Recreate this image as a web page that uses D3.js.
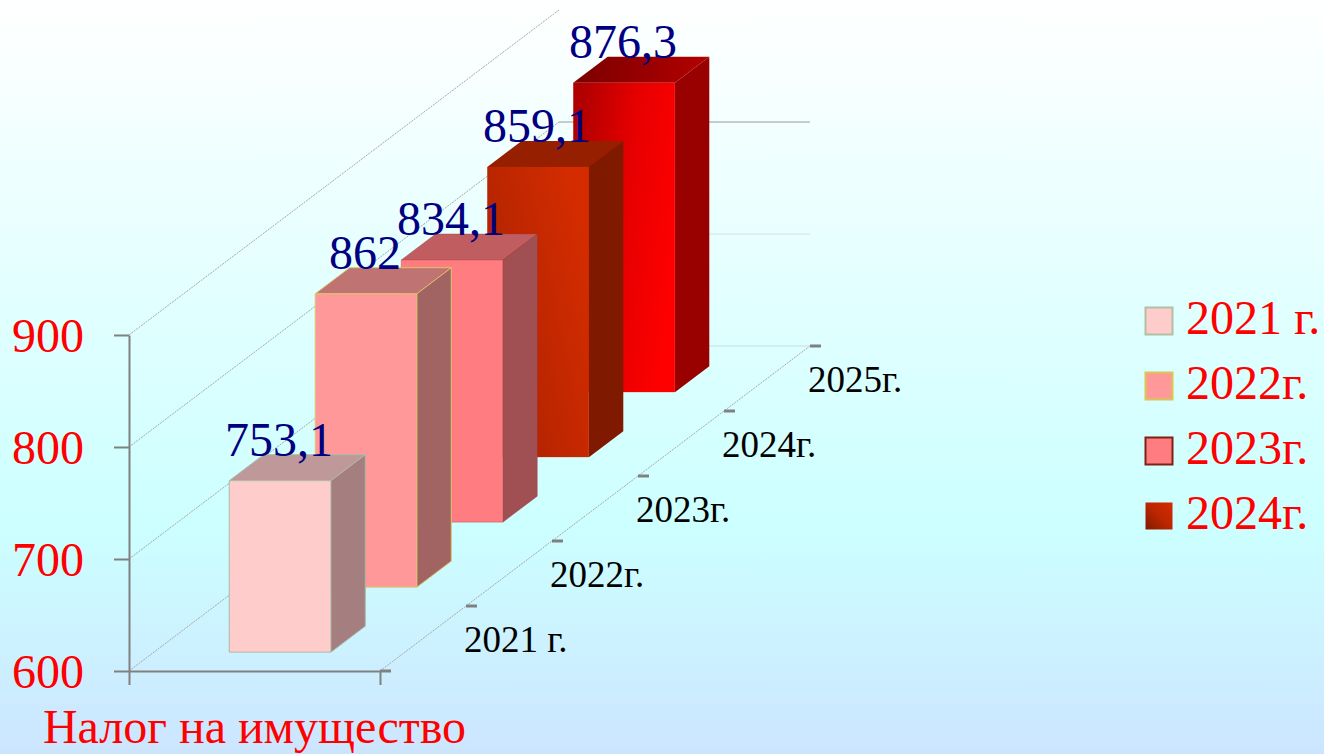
<!DOCTYPE html>
<html>
<head>
<meta charset="utf-8">
<script src="https://cdn.jsdelivr.net/npm/d3@7"></script>
<style>
  html, body { margin: 0; padding: 0; overflow: hidden; }
  text { font-family: "Liberation Serif", serif; }
  .wall { stroke: #a8a8a8; stroke-width: 1; stroke-dasharray: 2 1; fill: none; }
  .axis-main path, .axis-main line { stroke: #808080; stroke-width: 2; }
</style>
</head>
<body>
<svg id="chart" width="1324" height="754"></svg>
<script>
const categories = ["2021 г.", "2022г.", "2023г.", "2024г.", "2025г."];
const values = [753.1, 862, 834.1, 859.1, 876.3];
const valueLabels = ["753,1", "862", "834,1", "859,1", "876,3"];
const yTicks = [600, 700, 800, 900];
const seriesName = "Налог на имущество";
const legendLabels = categories.slice(0, 4);

const FACES = [
  { front: "#ffcccc", side: "#a57f7f", top: "#bf9999", edge: "#a9bca6", edgeOpacity: 1 },
  { front: "#ff9999", side: "#a26363", top: "#c07373", edge: "#d9c76a", edgeOpacity: 1 },
  { front: "#ff7c80", side: "#a05052", top: "#c05d60", edge: "#a03a30", edgeOpacity: 0.35 },
  { front: "url(#grad-2024)", side: "#7f1a00", top: "#961f00", edge: "none", edgeOpacity: 1 },
  { front: "url(#grad-2025)", side: "#990000", top: "url(#grad-2025-top)", edge: "none", edgeOpacity: 1 },
];
const LEGEND_STROKE = ["#b0bfa5", "#d8c850", "#7f2010", "none"];
const LEGEND_FILL = ["#ffcccc", "#ff9999", "#ff7c80", "url(#grad-legend)"];

const W = 1324;
const H = 754;

const y = d3.scaleLinear().domain([600, 900]).range([671, 335]);
const x = d3.scaleLinear().domain([0, 1]).range([129, 380]);
const depthX = d3.scaleLinear().domain([0, 5]).range([0, 430]);
const depthY = d3.scaleLinear().domain([0, 5]).range([0, -325]);

// front-plane position pushed back along the depth axis
const px = (u, d) => x(u) + depthX(d);
const py = (v, d) => y(v) + depthY(d);
const poly = (pts) => pts.map((p) => p.join(",")).join(" ");

const svg = d3.select("#chart");
const defs = svg.append("defs");

function addGradient(id, stops, x1, y1, x2, y2) {
  const g = defs.append("linearGradient").attr("id", id)
    .attr("x1", x1).attr("y1", y1).attr("x2", x2).attr("y2", y2);
  stops.forEach(([o, c]) => g.append("stop").attr("offset", o).attr("stop-color", c));
}
addGradient("grad-bg", [[0, "#ffffff"], [0.7, "#ccffff"], [1, "#cce5ff"]], 0, 0, 0, 1);
addGradient("grad-2024", [[0, "#a02000"], [0.45, "#bc2600"], [1, "#d42c00"]], 0, 0.9, 1, 0.3);
addGradient("grad-2025", [[0, "#b00000"], [0.5, "#e60000"], [1, "#ff0000"]], 0, 0.3, 1, 0.6);
addGradient("grad-2025-top", [[0, "#7a0000"], [1, "#b40000"]], 0, 0, 1, 0);
addGradient("grad-legend", [[0, "#801a00"], [0.5, "#bc2600"], [1, "#d42c00"]], 0, 1, 1, 0);

svg.append("rect").attr("width", W).attr("height", H).attr("fill", "url(#grad-bg)");

// side wall lines and back wall
const walls = svg.append("g");
walls.selectAll("line.wall").data(yTicks).enter().append("line").attr("class", "wall")
  .attr("x1", x(0)).attr("y1", (t) => y(t))
  .attr("x2", px(0, 5)).attr("y2", (t) => py(t, 5));
walls.append("line").attr("class", "wall")
  .attr("x1", x(1)).attr("y1", y(600))
  .attr("x2", px(1, 5)).attr("y2", py(600, 5));
// the 900 line does not show on the back wall
const backColors = ["#c4dede", "#cfe6e6", "#9a9a9a"];
walls.selectAll("line.back").data(yTicks.slice(0, 3)).enter().append("line").attr("class", "back")
  .attr("x1", px(0, 5)).attr("y1", (t) => py(t, 5))
  .attr("x2", px(1, 5)).attr("y2", (t) => py(t, 5))
  .attr("stroke", (t, i) => backColors[i]).attr("stroke-width", 1);

// axes
const yAxis = svg.append("g").attr("class", "axis-main")
  .attr("transform", `translate(${x(0)},0)`)
  .call(d3.axisLeft(y).tickValues(yTicks).tickSize(15).tickSizeOuter(0).tickPadding(30));
yAxis.selectAll("text")
  .attr("font-size", 48).attr("fill", "#ff0000").attr("dy", "0.34em")
  .style("font-family", '"Liberation Serif", serif');

svg.append("g").attr("class", "axis-main")
  .attr("transform", `translate(0,${y(600)})`)
  .call(d3.axisBottom(x).tickValues([0, 1]).tickSize(14).tickSizeOuter(0).tickFormat(""));

svg.append("text")
  .attr("x", x(0.5)).attr("y", 743)
  .attr("text-anchor", "middle").attr("font-size", 48).attr("fill", "#ff0000")
  .text(seriesName);

// depth axis ticks and labels
const depthTicks = svg.append("g");
depthTicks.selectAll("line").data(d3.range(0, 6)).enter().append("line")
  .attr("x1", (d) => px(1, d)).attr("x2", (d) => px(1, d) + 11)
  .attr("y1", (d) => py(600, d)).attr("y2", (d) => py(600, d))
  .attr("stroke", "#808080").attr("stroke-width", 3);
depthTicks.selectAll("text").data(categories).enter().append("text")
  .attr("x", (c, i) => px(1, i + 1) - 2)
  .attr("y", (c, i) => py(600, i + 1) + 46)
  .attr("font-size", 37).attr("fill", "#000000")
  .text((c) => c);

// bars, drawn from the back row to the front row
const bars = values.map((v, i) => ({ v, i, label: valueLabels[i], face: FACES[i] }));
const LEFT = 0.3, RIGHT = 0.705, NEAR = 0.29, FAR = 0.69;
const barG = svg.append("g").selectAll("g").data(bars.slice().reverse()).enter().append("g");

barG.append("polygon").attr("fill", (b) => b.face.side)
  .attr("points", (b) => poly([
    [px(RIGHT, b.i + NEAR), py(600, b.i + NEAR)],
    [px(RIGHT, b.i + FAR), py(600, b.i + FAR)],
    [px(RIGHT, b.i + FAR), py(b.v, b.i + FAR)],
    [px(RIGHT, b.i + NEAR), py(b.v, b.i + NEAR)],
  ]));
barG.append("polygon").attr("fill", (b) => b.face.top)
  .attr("points", (b) => poly([
    [px(LEFT, b.i + NEAR), py(b.v, b.i + NEAR)],
    [px(RIGHT, b.i + NEAR), py(b.v, b.i + NEAR)],
    [px(RIGHT, b.i + FAR), py(b.v, b.i + FAR)],
    [px(LEFT, b.i + FAR), py(b.v, b.i + FAR)],
  ]));
barG.append("rect").attr("fill", (b) => b.face.front)
  .attr("x", (b) => px(LEFT, b.i + NEAR))
  .attr("width", x(RIGHT) - x(LEFT))
  .attr("y", (b) => py(b.v, b.i + NEAR))
  .attr("height", (b) => y(600) - y(b.v));
barG.append("path").attr("fill", "none")
  .attr("stroke", (b) => b.face.edge).attr("stroke-opacity", (b) => b.face.edgeOpacity)
  .attr("stroke-width", 1)
  .attr("d", (b) => {
    const l = px(LEFT, b.i + NEAR), r = px(RIGHT, b.i + NEAR);
    const r2 = px(RIGHT, b.i + FAR), l2 = px(LEFT, b.i + FAR);
    const top = py(b.v, b.i + NEAR), top2 = py(b.v, b.i + FAR);
    const bot = py(600, b.i + NEAR), bot2 = py(600, b.i + FAR);
    return `M${l},${bot}L${r},${bot}L${r},${top}L${l},${top}Z`
      + `M${l},${top}L${l2},${top2}L${r2},${top2}L${r},${top}`
      + `M${r},${bot}L${r2},${bot2}L${r2},${top2}`;
  });

// value labels
svg.append("g").selectAll("text").data(bars).enter().append("text")
  .attr("x", (b) => px(0.5, b.i + NEAR) - 0.5)
  .attr("y", (b) => py(b.v, b.i + NEAR) - 25)
  .attr("text-anchor", "middle").attr("font-size", 48).attr("fill", "#000080")
  .text((b) => b.label);

// legend
const legendY = d3.scalePoint().domain(legendLabels).range([335, 530]);
const legend = svg.append("g").selectAll("g").data(legendLabels).enter().append("g")
  .attr("transform", (l) => `translate(1145,${legendY(l)})`);
legend.append("rect")
  .attr("x", 0.5).attr("y", -27.5).attr("width", 27).attr("height", 27)
  .attr("fill", (l, i) => LEGEND_FILL[i])
  .attr("stroke", (l, i) => LEGEND_STROKE[i]).attr("stroke-width", 2);
legend.append("text")
  .attr("x", 41).attr("y", -1)
  .attr("font-size", 48).attr("fill", "#ff0000")
  .text((l) => l);
</script>
</body>
</html>
